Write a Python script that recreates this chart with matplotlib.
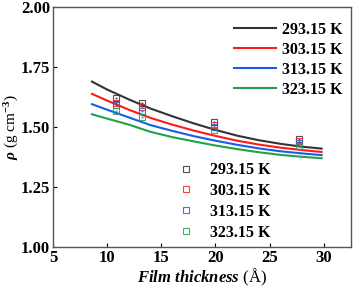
import matplotlib as mpl
mpl.use("Agg")
import matplotlib.pyplot as plt
from matplotlib.lines import Line2D

mpl.rcParams.update({
    "font.family": "Liberation Serif",
    "font.weight": "bold",
    "mathtext.fontset": "custom",
    "mathtext.rm": "Liberation Serif:bold",
    "mathtext.it": "Liberation Serif:bold:italic",
    "mathtext.bf": "Liberation Serif:bold",
})

temps = ["293.15 K", "303.15 K", "313.15 K", "323.15 K"]
colors = ["#333333", "#ff1a1a", "#1a5ce6", "#1fa34a"]

# model curves
x_fit = [8.6, 10, 12, 14, 16, 18, 20, 22, 24, 26, 28, 29.8]
rho_fit = [
    [1.689, 1.656, 1.615, 1.577, 1.545, 1.515, 1.488, 1.464, 1.445, 1.430, 1.418, 1.410],
    [1.638, 1.610, 1.572, 1.538, 1.510, 1.485, 1.463, 1.443, 1.427, 1.414, 1.404, 1.396],
    [1.595, 1.572, 1.540, 1.508, 1.484, 1.462, 1.443, 1.426, 1.411, 1.399, 1.390, 1.383],
    [1.553, 1.535, 1.510, 1.480, 1.458, 1.440, 1.423, 1.408, 1.395, 1.384, 1.376, 1.370],
]

# simulated points
x_sim = [10.8, 13.2, 19.85, 27.7]
rho_sim = [
    [1.620, 1.600, 1.520, 1.450],
    [1.600, 1.583, 1.508, 1.442],
    [1.590, 1.567, 1.500, 1.433],
    [1.567, 1.540, 1.487, 1.420],
]

fig = plt.figure(figsize=(3.53, 2.88), dpi=100)
ax = fig.add_axes([0.150, 0.142, 0.844, 0.834])

for ys, c in zip(rho_fit, colors):
    ax.plot(x_fit, ys, color=c, lw=1.5)
for ys, c in zip(rho_sim, colors):
    ax.plot(x_sim, ys, ls="none", marker="s", ms=5, mfc="none",
            mec=c, mew=0.8, alpha=0.85)
    ax.plot(x_sim, ys, ls="none", marker=".", ms=1.5, color=c, alpha=0.6)

ax.set_xlim(5, 32.5)
ax.set_ylim(1.0, 2.0)
ax.set_xticks([5, 10, 15, 20, 25, 30])
ax.set_yticks([1.0, 1.25, 1.5, 1.75, 2.0])
ax.set_yticklabels(["1.00", "1.25", "1.50", "1.75", "2.00"])
ax.tick_params(direction="in", length=3, width=0.8, labelsize=12,
               top=False, right=False, pad=2)
for s in ax.spines.values():
    s.set_color("#555555")
    s.set_linewidth(1.0)

ax.set_xlabel(r"$\it{Film\ thickness}$ (Å)", fontsize=12, labelpad=1)
ax.set_ylabel(r"$\rho$ (g cm$^{-3}$)", fontsize=11, labelpad=0)

line_handles = [Line2D([], [], color=c, lw=1.5) for c in colors]
leg1 = ax.legend(line_handles, temps, loc="upper right", bbox_to_anchor=(1.01, 0.985),
                 frameon=False, fontsize=11.5, handlelength=2.6, handletextpad=0.4,
                 labelspacing=0.25, borderpad=0.2)
ax.add_artist(leg1)

marker_handles = [Line2D([], [], ls="none", marker="s", ms=5, mfc="none",
                         mec=c, mew=0.8, alpha=0.85) for c in colors]
ax.legend(marker_handles, temps, loc="upper left", bbox_to_anchor=(0.37, 0.40),
          frameon=False, fontsize=11.5, handlelength=1.5, handletextpad=0.7,
          labelspacing=0.3, borderpad=0.2)

fig.savefig("out.png", dpi=100)
